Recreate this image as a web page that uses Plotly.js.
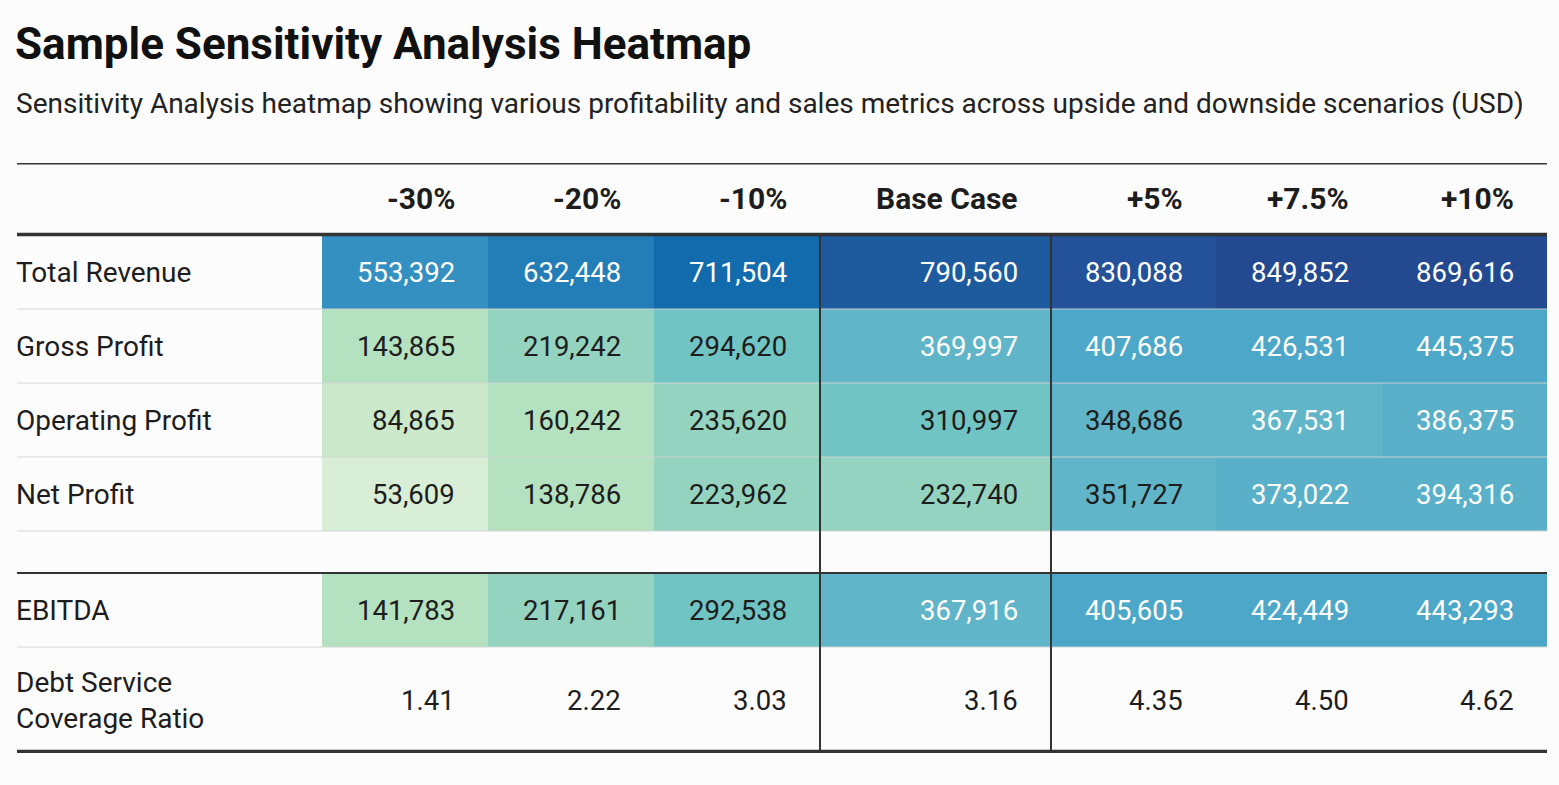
<!DOCTYPE html>
<html>
<head>
<meta charset="utf-8">
<script src="https://cdn.plot.ly/plotly-3.0.1.min.js"></script>
<style>
  html, body { margin: 0; padding: 0; background: #fcfcfc; }
  #chart { width: 1559px; height: 785px; }
</style>
</head>
<body>
<div id="chart"></div>
<script>
// ---------- DATA ----------
const scenarios = ['-30%', '-20%', '-10%', 'Base Case', '+5%', '+7.5%', '+10%'];
const metrics = ['Total Revenue', 'Gross Profit', 'Operating Profit', 'Net Profit', 'EBITDA', 'Debt Service<br>Coverage Ratio'];
const totalRevenue    = [553392, 632448, 711504, 790560, 830088, 849852, 869616];
const grossProfit     = [143865, 219242, 294620, 369997, 407686, 426531, 445375];
const operatingProfit = [84865, 160242, 235620, 310997, 348686, 367531, 386375];
const netProfit       = [53609, 138786, 223962, 232740, 351727, 373022, 394316];
const ebitda          = [141783, 217161, 292538, 367916, 405605, 424449, 443293];
const dscr            = [1.41, 2.22, 3.03, 3.16, 4.35, 4.50, 4.62];

// ---------- LAYOUT CONFIG (pixels) ----------
const colWidths = [305, 166, 166, 166, 231, 165, 166, 165];   // label col + 7 scenario cols
const rowHeights = [72, 74, 74, 74, 74, 42, 74, 106];         // header, 4 rows, spacer, EBITDA, DSCR
const cellPadRight = 31;
const font = 'Roboto, "Noto Sans", sans-serif';
const darkText = '#1d1d1d';

const cum = a => a.reduce((acc, v) => { acc.push(acc[acc.length - 1] + v); return acc; }, [0]);
const xEdges = cum(colWidths);      // 9 edges
const yEdges = cum(rowHeights);     // 9 edges
const W = xEdges[xEdges.length - 1];
const H = yEdges[yEdges.length - 1];
const plotTop = 163;

// rows in the body (after header): TR, GP, OP, NP, spacer, EBITDA, DSCR
const bodyRows = [totalRevenue, grossProfit, operatingProfit, netProfit, null, ebitda, null];
const z = bodyRows.map(r => r ? r.slice() : scenarios.map(() => null));
const heatX = xEdges.slice(1);      // 8 edges for 7 columns
const heatY = yEdges.slice(1);      // 8 edges for 7 rows

// stepped colour scale
const zmin = 0, zmax = 900000;
const bins = [
  [0, '#d9eed6'], [65000, '#cbe9ca'], [100000, '#b4e1c0'], [200000, '#94d3c0'],
  [270000, '#71c4c4'], [340000, '#61b5c8'], [371000, '#59b0c8'], [400000, '#4ca7c9'],
  [500000, '#3390c0'], [600000, '#237eb8'], [680000, '#116bad'], [760000, '#1e5b9e'],
  [810000, '#23519a'], [840000, '#234a90']
];
const colorscale = [];
bins.forEach((b, i) => {
  const start = (b[0] - zmin) / (zmax - zmin);
  const end = i < bins.length - 1 ? (bins[i + 1][0] - zmin) / (zmax - zmin) : 1;
  colorscale.push([start, b[1]]);
  colorscale.push([end, b[1]]);
});

const heat = {
  type: 'heatmap',
  x: heatX, y: heatY, z: z,
  zmin: zmin, zmax: zmax,
  colorscale: colorscale,
  showscale: false,
  hoverinfo: 'skip'
};

// ---------- ANNOTATIONS ----------
const ann = [];
const fmt = v => v.toLocaleString('en-US');
const rowCenter = i => (yEdges[i] + yEdges[i + 1]) / 2;
const colRight = j => xEdges[j + 2] - cellPadRight;

// header
scenarios.forEach((s, j) => {
  ann.push({ xref: 'x', yref: 'y', x: colRight(j), y: rowCenter(0) - 1, text: '<b>' + s + '</b>',
    xanchor: 'right', yanchor: 'middle', showarrow: false,
    font: { family: font, size: 30, color: darkText } });
});

// row labels
const labelRowIdx = [1, 2, 3, 4, 6, 7];
metrics.forEach((m, i) => {
  ann.push({ xref: 'x', yref: 'y', x: 0, xshift: -3, y: rowCenter(labelRowIdx[i]), text: m,
    xanchor: 'left', yanchor: 'middle', align: 'left', showarrow: false,
    font: { family: font, size: 28, color: darkText } });
});

// values
bodyRows.forEach((r, ri) => {
  if (!r) return;
  r.forEach((v, j) => {
    ann.push({ xref: 'x', yref: 'y', x: colRight(j), y: rowCenter(ri + 1), text: fmt(v),
      xanchor: 'right', yanchor: 'middle', showarrow: false,
      font: { family: font, size: 27.5, color: v >= 360000 ? '#ffffff' : darkText } });
  });
});
dscr.forEach((v, j) => {
  ann.push({ xref: 'x', yref: 'y', x: colRight(j), y: rowCenter(7), text: v.toFixed(2),
    xanchor: 'right', yanchor: 'middle', showarrow: false,
    font: { family: font, size: 27.5, color: darkText } });
});

// subtitle (paper coords: 1 = top of table)
ann.push({ xref: 'paper', yref: 'paper', x: 0, xshift: -3, y: 1 + (plotTop - 104) / H,
  text: 'Sensitivity Analysis heatmap showing various profitability and sales metrics across upside and downside scenarios (USD)',
  xanchor: 'left', yanchor: 'middle', showarrow: false,
  font: { family: font, size: 28, color: '#222' } });

// ---------- SHAPES ----------
const shapes = [];
const hline = (y, w, c) => shapes.push({ type: 'line', xref: 'x', yref: 'y', x0: 0, x1: W, y0: y, y1: y,
  line: { color: c, width: w } });
hline(0.5, 2, '#333');                 // top
[2, 3, 4, 5, 7].forEach(i => hline(yEdges[i], 2, 'rgba(210,210,210,0.45)'));  // light separators
hline(yEdges[1] - 0.5, 3.5, '#333');     // header bottom
hline(yEdges[6], 2.2, '#333');           // above EBITDA
hline(H - 1.5, 3.5, '#333');             // bottom
[4, 5].forEach(j => shapes.push({ type: 'line', xref: 'x', yref: 'y', x0: xEdges[j], x1: xEdges[j],
  y0: yEdges[1], y1: H - 1, line: { color: '#333', width: 2 } }));

const layout = {
  width: 1559, height: 785,
  margin: { l: 17, r: 12, t: plotTop, b: 785 - plotTop - H },
  paper_bgcolor: '#fcfcfc', plot_bgcolor: 'rgba(0,0,0,0)',
  title: { text: '<b>Sample Sensitivity Analysis Heatmap</b>', x: 15 / 1559, xanchor: 'left', xref: 'container',
    y: 1 - 44 / 785, yanchor: 'middle', yref: 'container',
    font: { family: font, size: 44, color: '#111' } },
  xaxis: { range: [0, W], visible: false, fixedrange: true },
  yaxis: { range: [H, 0], visible: false, fixedrange: true },
  shapes: shapes,
  annotations: ann,
  showlegend: false
};

Plotly.newPlot('chart', [heat], layout, { displayModeBar: false, staticPlot: true });
</script>
</body>
</html>
